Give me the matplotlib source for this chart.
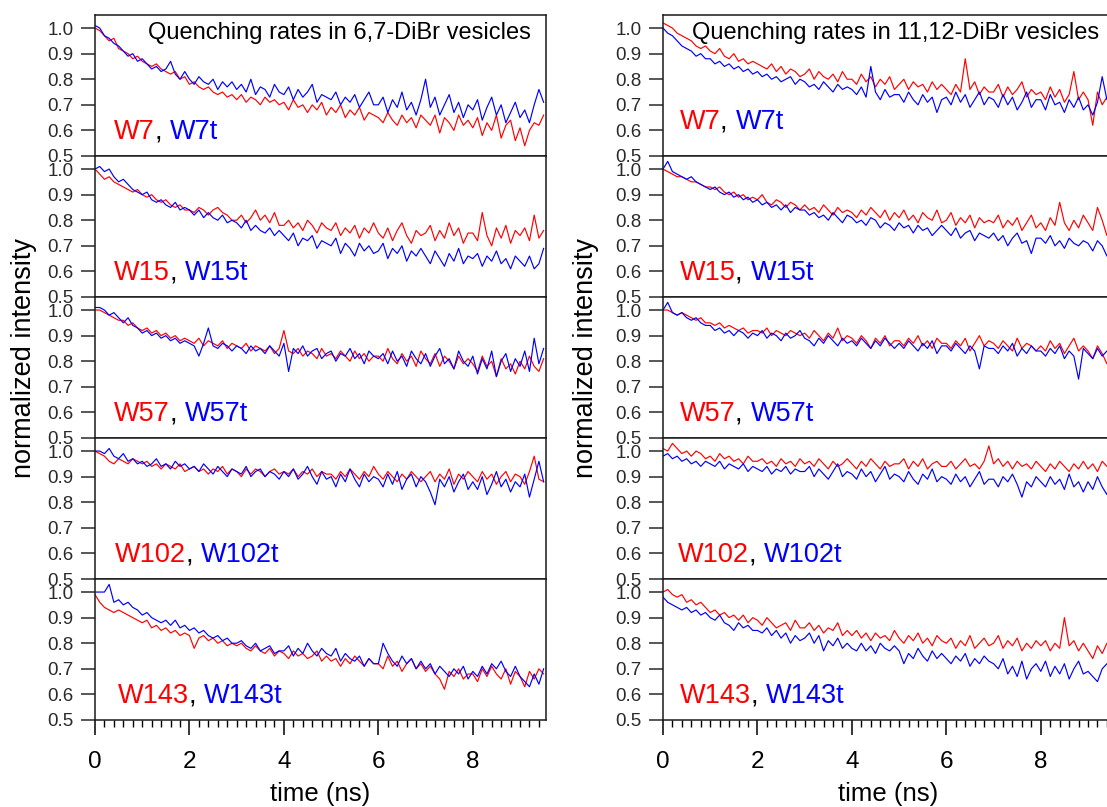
#!/usr/bin/env python3
"""Quenching of Trp fluorescence in DiBr vesicles: stacked decay traces."""

import matplotlib
matplotlib.use("Agg")
import matplotlib.pyplot as plt
import numpy as np
from matplotlib.ticker import MultipleLocator

plt.rcParams["font.family"] = ["Liberation Sans", "DejaVu Sans"]

RED = "#ff0000"
BLUE = "#0000ff"

# sample grid of the traces (ns)
time_ns = np.round(np.arange(96) * 0.1, 1)

# normalized intensity in percent, one value every 0.1 ns
# --- 6,7-DiBr vesicles ---
dibr67_w7 = [100, 99, 97, 95, 96, 92, 91, 90, 88, 89,
             87, 86, 85, 86, 84, 83, 82, 83, 80, 81,
             78, 79, 77, 76, 77, 75, 74, 75, 73, 74,
             72, 74, 71, 73, 72, 70, 73, 71, 72, 70,
             71, 68, 72, 69, 70, 67, 70, 68, 71, 66,
             69, 67, 70, 65, 68, 66, 69, 64, 67, 66,
             65, 63, 67, 64, 62, 66, 63, 65, 61, 66,
             64, 62, 66, 59, 65, 63, 60, 66, 62, 64,
             61, 65, 58, 63, 60, 66, 57, 62, 64, 56,
             61, 54, 60, 63, 62, 66]
dibr67_w7t = [101, 100, 97, 96, 94, 93, 91, 89, 90, 87,
              88, 86, 84, 85, 83, 84, 87, 82, 80, 83,
              80, 78, 81, 79, 78, 80, 76, 79, 77, 79,
              76, 78, 75, 80, 74, 77, 76, 73, 78, 75,
              74, 77, 72, 76, 73, 75, 78, 71, 74, 73,
              72, 75, 70, 73, 71, 74, 69, 72, 75, 70,
              70, 73, 67, 72, 69, 75, 68, 71, 66, 72,
              80, 69, 73, 66, 70, 74, 67, 71, 65, 70,
              68, 72, 64, 69, 73, 66, 70, 63, 67, 71,
              65, 68, 63, 70, 76, 71]
dibr67_w15 = [100, 98, 96, 97, 95, 94, 93, 92, 91, 92,
              90, 89, 90, 88, 87, 88, 86, 85, 86, 84,
              84, 83, 85, 84, 82, 84, 85, 83, 82, 80,
              80, 82, 79, 81, 84, 80, 82, 79, 83, 78,
              78, 80, 77, 79, 76, 80, 78, 75, 79, 77,
              76, 79, 74, 77, 75, 78, 73, 77, 75, 79,
              75, 73, 77, 72, 76, 79, 74, 71, 76, 74,
              75, 78, 72, 76, 73, 79, 74, 77, 71, 75,
              75, 72, 83, 74, 70, 77, 73, 78, 71, 76,
              74, 77, 72, 82, 73, 76]
dibr67_w15t = [100, 101, 99, 100, 97, 95, 96, 94, 92, 91,
               90, 91, 88, 87, 88, 86, 85, 87, 84, 85,
               84, 82, 84, 81, 83, 81, 80, 82, 79, 80,
               79, 77, 80, 76, 78, 76, 75, 77, 74, 76,
               74, 72, 75, 70, 73, 72, 74, 69, 72, 71,
               70, 73, 67, 71, 69, 66, 71, 68, 70, 67,
               68, 71, 65, 69, 67, 70, 64, 68, 66, 69,
               66, 63, 68, 65, 62, 67, 64, 69, 63, 66,
               65, 67, 62, 66, 64, 68, 63, 65, 61, 66,
               64, 62, 66, 61, 63, 69]
dibr67_w57 = [100, 100, 99, 98, 97, 96, 96, 94, 95, 93,
              92, 93, 91, 92, 90, 91, 89, 90, 88, 89,
              88, 87, 89, 86, 88, 87, 86, 88, 85, 87,
              86, 85, 87, 84, 86, 85, 84, 86, 83, 85,
              92, 84, 83, 85, 82, 84, 83, 81, 85, 82,
              83, 81, 84, 82, 80, 84, 81, 83, 80, 82,
              82, 80, 85, 81, 79, 83, 80, 82, 78, 84,
              81, 79, 83, 78, 82, 80, 77, 82, 79, 81,
              79, 76, 82, 78, 80, 74, 81, 77, 79, 75,
              80, 77, 82, 78, 76, 81]
dibr67_w57t = [101, 101, 100, 98, 99, 97, 95, 97, 94, 93,
               91, 92, 90, 91, 89, 90, 88, 89, 87, 88,
               87, 86, 82, 87, 93, 86, 85, 87, 86, 84,
               86, 85, 83, 86, 84, 85, 83, 86, 84, 82,
               87, 76, 85, 83, 86, 82, 84, 85, 81, 83,
               84, 80, 83, 82, 85, 81, 83, 79, 84, 82,
               81, 83, 79, 84, 80, 82, 78, 84, 81, 79,
               83, 78, 82, 85, 79, 81, 77, 84, 80, 78,
               82, 75, 81, 77, 84, 74, 80, 83, 76, 81,
               78, 84, 76, 89, 79, 85]
dibr67_w102 = [100, 99, 98, 96, 95, 97, 96, 95, 97, 96,
               95, 96, 94, 95, 93, 95, 94, 93, 95, 92,
               93, 94, 92, 93, 91, 93, 92, 94, 91, 93,
               92, 90, 93, 91, 93, 92, 90, 92, 93, 91,
               92, 91, 93, 90, 92, 91, 93, 90, 92, 91,
               91, 89, 92, 90, 93, 91, 89, 92, 90, 94,
               91, 89, 92, 90, 88, 91, 89, 92, 90, 88,
               90, 92, 88, 91, 89, 93, 87, 91, 89, 92,
               90, 88, 92, 89, 91, 87, 90, 92, 88, 91,
               90, 87, 92, 98, 89, 88]
dibr67_w102t = [100, 100, 99, 101, 98, 97, 99, 96, 97, 95,
                96, 94, 95, 97, 94, 95, 93, 96, 94, 95,
                93, 94, 92, 95, 93, 91, 94, 92, 90, 93,
                92, 91, 94, 90, 92, 93, 90, 92, 91, 89,
                92, 90, 93, 89, 91, 94, 90, 87, 92, 89,
                90, 86, 91, 88, 93, 89, 86, 91, 88, 90,
                89, 86, 91, 87, 92, 85, 89, 91, 86, 90,
                88, 84, 79, 89, 86, 90, 84, 88, 91, 85,
                88, 85, 90, 83, 87, 92, 86, 89, 84, 88,
                86, 91, 82, 89, 96, 88]
dibr67_w143 = [99, 96, 94, 93, 92, 93, 92, 91, 90, 89,
               88, 89, 86, 87, 85, 86, 84, 85, 83, 84,
               83, 78, 82, 83, 81, 82, 80, 81, 79, 80,
               79, 80, 78, 77, 79, 77, 76, 78, 75, 77,
               76, 74, 77, 75, 76, 74, 75, 77, 73, 75,
               73, 74, 71, 74, 72, 75, 73, 71, 74, 72,
               72, 70, 75, 71, 73, 69, 72, 74, 70, 72,
               69, 71, 68, 66, 62, 69, 67, 70, 66, 68,
               68, 65, 70, 67, 71, 68, 66, 70, 64, 69,
               67, 63, 69, 66, 70, 68]
dibr67_w143t = [100, 100, 100, 103, 96, 97, 95, 96, 94, 93,
                91, 92, 90, 89, 88, 89, 87, 89, 86, 87,
                85, 86, 84, 85, 83, 82, 83, 81, 82, 80,
                80, 81, 79, 78, 80, 77, 78, 79, 76, 77,
                77, 79, 75, 78, 76, 80, 77, 75, 78, 76,
                75, 78, 73, 76, 74, 73, 75, 71, 74, 72,
                72, 80, 76, 73, 71, 75, 72, 74, 70, 73,
                70, 72, 68, 71, 69, 67, 70, 68, 71, 66,
                69, 67, 71, 68, 72, 70, 73, 69, 67, 71,
                67, 65, 63, 68, 64, 70]

# --- 11,12-DiBr vesicles ---
dibr1112_w7 = [102, 101, 100, 98, 97, 96, 95, 93, 92, 93,
               91, 90, 92, 89, 88, 90, 87, 88, 86, 87,
               86, 85, 84, 86, 83, 85, 82, 84, 83, 81,
               82, 84, 80, 83, 81, 80, 82, 79, 83, 80,
               80, 78, 82, 79, 81, 77, 80, 78, 81, 76,
               78, 80, 76, 79, 77, 78, 75, 79, 76, 78,
               76, 74, 78, 75, 88, 76, 79, 74, 77, 75,
               75, 78, 73, 77, 74, 76, 79, 73, 76, 74,
               75, 72, 77, 73, 76, 71, 74, 83, 72, 75,
               72, 62, 75, 70, 73, 72]
dibr1112_w7t = [100, 98, 97, 95, 93, 92, 91, 89, 90, 88,
                88, 86, 87, 85, 86, 84, 85, 83, 84, 82,
                83, 81, 82, 80, 81, 79, 80, 81, 78, 80,
                79, 77, 78, 76, 79, 77, 75, 78, 76, 77,
                76, 74, 77, 73, 85, 75, 72, 76, 73, 74,
                74, 71, 75, 72, 70, 74, 71, 73, 67, 72,
                73, 70, 75, 71, 74, 69, 72, 75, 70, 73,
                72, 69, 74, 70, 73, 68, 71, 75, 69, 72,
                72, 68, 74, 70, 71, 67, 72, 69, 73, 68,
                70, 66, 71, 81, 72, 74]
dibr1112_w15 = [100, 99, 98, 97, 97, 96, 95, 95, 94, 93,
                93, 92, 93, 91, 90, 91, 89, 90, 88, 89,
                88, 90, 87, 86, 88, 87, 85, 87, 86, 84,
                86, 84, 85, 83, 86, 84, 82, 85, 83, 84,
                83, 81, 84, 82, 85, 83, 81, 84, 80, 83,
                81, 84, 80, 82, 79, 83, 81, 80, 84, 79,
                80, 83, 78, 81, 79, 82, 77, 81, 79, 80,
                79, 82, 77, 80, 78, 81, 76, 79, 82, 77,
                79, 76, 81, 78, 87, 79, 76, 80, 77, 82,
                79, 76, 85, 80, 74, 76]
dibr1112_w15t = [100, 103, 99, 98, 97, 96, 97, 95, 94, 93,
                 92, 93, 91, 90, 91, 89, 90, 88, 89, 87,
                 88, 86, 87, 85, 86, 84, 86, 83, 85, 84,
                 84, 82, 83, 81, 82, 80, 83, 81, 79, 82,
                 81, 79, 80, 78, 81, 80, 77, 79, 78, 76,
                 79, 77, 78, 75, 78, 76, 77, 74, 76, 78,
                 76, 74, 77, 73, 75, 76, 72, 75, 74, 73,
                 75, 72, 74, 70, 73, 75, 71, 72, 67, 73,
                 73, 71, 74, 70, 72, 69, 73, 71, 70, 72,
                 71, 68, 72, 70, 66, 71]
dibr1112_w57 = [100, 100, 99, 98, 99, 98, 97, 96, 97, 95,
                95, 94, 95, 93, 94, 93, 92, 93, 91, 92,
                92, 91, 93, 90, 92, 91, 90, 92, 91, 90,
                91, 89, 92, 90, 88, 91, 89, 93, 88, 90,
                89, 87, 90, 88, 85, 89, 87, 90, 86, 88,
                88, 86, 89, 87, 90, 86, 88, 85, 89, 87,
                87, 85, 88, 86, 89, 84, 87, 90, 86, 88,
                87, 85, 88, 86, 84, 89, 85, 87, 86, 84,
                86, 84, 88, 85, 87, 83, 86, 89, 84, 86,
                84, 81, 86, 83, 79, 85]
dibr1112_w57t = [100, 103, 99, 98, 99, 97, 96, 97, 95, 94,
                 94, 92, 93, 91, 92, 90, 92, 91, 89, 91,
                 90, 92, 89, 91, 90, 88, 91, 89, 90, 92,
                 89, 88, 86, 89, 87, 90, 88, 86, 89, 87,
                 88, 86, 89, 87, 85, 88, 86, 89, 87, 85,
                 87, 85, 88, 86, 84, 87, 85, 88, 83, 86,
                 86, 84, 87, 85, 83, 86, 84, 77, 86, 85,
                 85, 83, 86, 84, 87, 82, 85, 83, 86, 84,
                 84, 82, 85, 83, 86, 81, 84, 82, 73, 85,
                 83, 81, 85, 82, 84, 83]
dibr1112_w102 = [101, 100, 103, 101, 99, 100, 98, 100, 99, 97,
                 98, 96, 99, 97, 98, 96, 97, 95, 98, 96,
                 96, 97, 95, 96, 94, 97, 95, 96, 94, 97,
                 95, 96, 94, 97, 95, 93, 96, 94, 95, 97,
                 95, 93, 96, 94, 97, 95, 93, 96, 94, 95,
                 95, 97, 93, 96, 94, 97, 93, 95, 96, 94,
                 94, 96, 93, 95, 97, 94, 95, 93, 96, 102,
                 95, 97, 94, 96, 93, 96, 94, 95, 93, 96,
                 94, 92, 95, 93, 96, 94, 92, 95, 93, 96,
                 93, 95, 92, 96, 94, 95]
dibr1112_w102t = [98, 99, 97, 98, 96, 97, 95, 96, 94, 96,
                  95, 94, 96, 93, 95, 94, 93, 95, 92, 94,
                  93, 92, 94, 91, 93, 92, 94, 91, 93, 92,
                  92, 94, 90, 93, 91, 89, 92, 95, 90, 92,
                  91, 89, 93, 90, 92, 88, 91, 94, 89, 91,
                  90, 88, 92, 89, 87, 91, 89, 93, 88, 90,
                  89, 87, 91, 88, 90, 86, 89, 92, 87, 89,
                  89, 86, 90, 88, 91, 87, 82, 88, 86, 90,
                  88, 86, 90, 87, 89, 85, 91, 86, 88, 84,
                  88, 85, 90, 86, 83, 90]
dibr1112_w143 = [100, 101, 99, 98, 99, 96, 97, 95, 96, 94,
                 92, 93, 91, 92, 90, 91, 89, 91, 88, 90,
                 89, 87, 90, 88, 86, 87, 88, 85, 89, 86,
                 86, 88, 85, 87, 84, 86, 85, 88, 83, 85,
                 83, 85, 82, 84, 81, 84, 82, 83, 81, 85,
                 82, 80, 83, 81, 84, 80, 82, 79, 83, 81,
                 80, 82, 78, 81, 79, 83, 78, 80, 82, 79,
                 80, 83, 78, 81, 79, 82, 77, 80, 78, 81,
                 79, 81, 77, 80, 78, 90, 79, 81, 77, 80,
                 77, 74, 79, 76, 80, 79]
dibr1112_w143t = [98, 96, 95, 94, 93, 94, 92, 93, 91, 92,
                  90, 89, 91, 88, 87, 85, 88, 86, 87, 85,
                  85, 84, 86, 83, 85, 82, 84, 80, 83, 81,
                  82, 84, 80, 83, 77, 81, 79, 82, 78, 80,
                  78, 77, 80, 77, 79, 76, 80, 78, 77, 79,
                  77, 72, 76, 74, 78, 75, 73, 77, 74, 76,
                  74, 72, 75, 73, 76, 71, 74, 72, 75, 73,
                  72, 70, 74, 68, 71, 67, 73, 66, 70, 72,
                  69, 73, 67, 71, 68, 72, 66, 70, 73, 68,
                  69, 67, 65, 70, 72, 71]

residues = ["W7", "W15", "W57", "W102", "W143"]
panels_67 = [(dibr67_w7, dibr67_w7t), (dibr67_w15, dibr67_w15t), (dibr67_w57, dibr67_w57t),
             (dibr67_w102, dibr67_w102t), (dibr67_w143, dibr67_w143t)]
panels_1112 = [(dibr1112_w7, dibr1112_w7t), (dibr1112_w15, dibr1112_w15t),
               (dibr1112_w57, dibr1112_w57t), (dibr1112_w102, dibr1112_w102t),
               (dibr1112_w143, dibr1112_w143t)]

W, H = 1107, 807


def residue_label(ax, x, y, name):
    first = ax.text(x, y, name, color=RED, fontsize=19.5, va="baseline", ha="left")
    comma = ax.annotate(", ", xy=(1, 0), xycoords=first, va="bottom", ha="left",
                        color="black", fontsize=19.5)
    ax.annotate(name + "t", xy=(1, 0), xycoords=comma, va="bottom", ha="left",
                color=BLUE, fontsize=19.5)


def draw_column(fig, left_px, panels, title, label_pos):
    axes = []
    top_px, bottom_px = 15, 720
    h_px = (bottom_px - top_px) / 5
    w_px = 451
    for i, (red, blue) in enumerate(panels):
        y_bottom = top_px + (i + 1) * h_px
        ax = fig.add_axes([left_px / W, 1 - y_bottom / H, w_px / W, h_px / H])
        ax.plot(time_ns, np.array(red) / 100, color=RED, lw=0.85)
        ax.plot(time_ns, np.array(blue) / 100, color=BLUE, lw=0.85)
        ax.set_xlim(0, 9.55)
        ax.set_ylim(0.5, 1.051)
        ax.set_yticks([0.5, 0.6, 0.7, 0.8, 0.9, 1.0])
        ax.set_yticklabels(["0.5", "0.6", "0.7", "0.8", "0.9", "1.0"])
        ax.tick_params(axis="y", direction="out", length=10, width=1.1, pad=5.5,
                       labelsize=13.5, labelcolor="#2a2a2a", colors="#2a2a2a")
        for sp in ax.spines.values():
            sp.set_linewidth(1.1)
            sp.set_color("#1a1a1a")
        if i < 4:
            ax.tick_params(axis="x", bottom=False, labelbottom=False)
        else:
            ax.xaxis.set_major_locator(MultipleLocator(2))
            ax.xaxis.set_minor_locator(MultipleLocator(0.2))
            ax.tick_params(axis="x", which="major", direction="out", length=10.5,
                           width=1.1, labelsize=17.5, pad=12)
            ax.tick_params(axis="x", which="minor", direction="out", length=5, width=1.0)
            ax.set_xlabel("time (ns)", fontsize=18.5, labelpad=6)
        lx, ly = label_pos[i]
        residue_label(ax, lx, ly, residues[i])
        axes.append(ax)
    axes[0].text(1 - 15 / w_px, 0.872, title, transform=axes[0].transAxes,
                 ha="right", va="center", fontsize=17)
    return axes


fig = plt.figure(figsize=(W / 100, H / 100), dpi=100)

draw_column(fig, 95, panels_67, "Quenching rates in 6,7-DiBr vesicles",
            [(0.40, 0.565), (0.40, 0.565), (0.40, 0.565), (0.42, 0.565), (0.48, 0.565)])
draw_column(fig, 663, panels_1112, "Quenching rates in 11,12-DiBr vesicles",
            [(0.35, 0.605), (0.35, 0.565), (0.35, 0.565), (0.32, 0.565), (0.35, 0.565)])

fig.text(24 / W, 1 - 358 / H, "normalized intensity", rotation=90,
         ha="center", va="center", fontsize=19.5)
fig.text(586 / W, 1 - 358 / H, "normalized intensity", rotation=90,
         ha="center", va="center", fontsize=19.5)

fig.savefig("out.png", dpi=100)
